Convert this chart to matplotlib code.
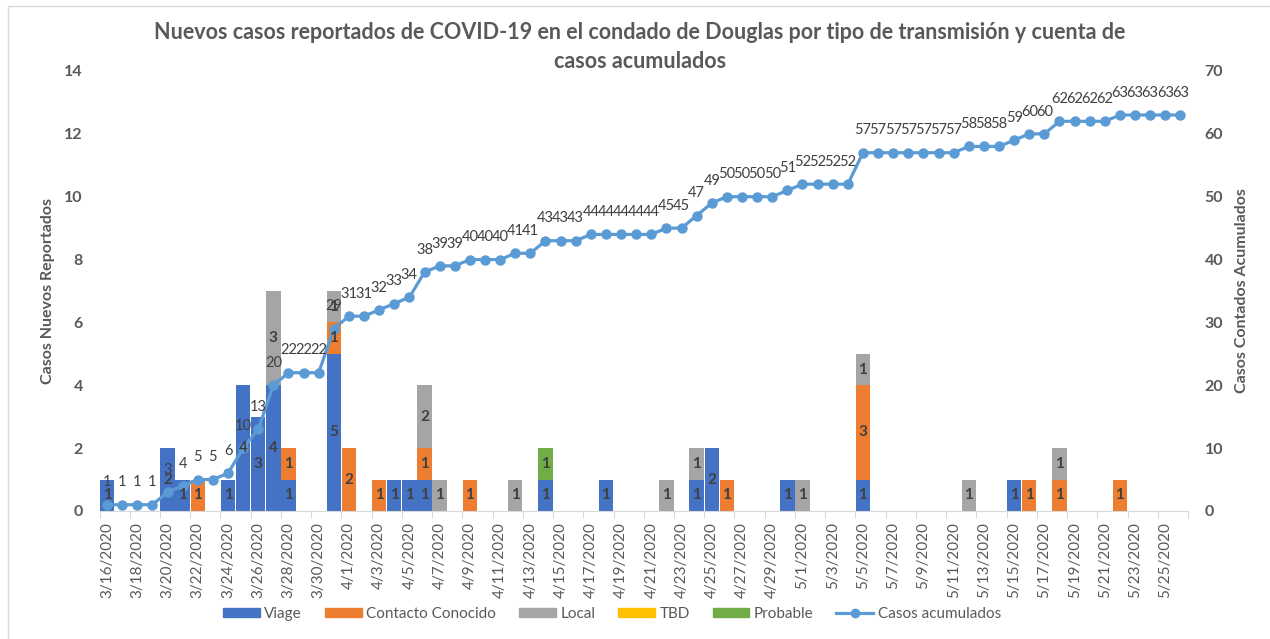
import numpy as np
import pandas as pd
import matplotlib
matplotlib.use("Agg")
import matplotlib.pyplot as plt
from matplotlib.patches import Patch, Rectangle
from matplotlib.lines import Line2D

plt.rcParams['font.family'] = ['Lato', 'DejaVu Sans']

# Fechas (categorías del eje x)
fechas = pd.date_range("2020-03-16", "2020-05-26", freq="D")
etiquetas = [f"{d.month}/{d.day}/{d.year}" for d in fechas]
claves = [f"{d.month}/{d.day}" for d in fechas]

# Casos nuevos por tipo de transmisión (solo días con casos)
viage = {"3/16": 1, "3/20": 2, "3/21": 1, "3/24": 1, "3/25": 4, "3/26": 3,
         "3/27": 4, "3/28": 1, "3/31": 5, "4/4": 1, "4/5": 1, "4/6": 1,
         "4/14": 1, "4/18": 1, "4/24": 1, "4/25": 2, "4/30": 1, "5/5": 1,
         "5/15": 1}
contacto = {"3/22": 1, "3/28": 1, "3/31": 1, "4/1": 2, "4/3": 1, "4/6": 1,
            "4/9": 1, "4/26": 1, "5/5": 3, "5/16": 1, "5/18": 1, "5/22": 1}
local = {"3/27": 3, "3/31": 1, "4/6": 2, "4/7": 1, "4/12": 1, "4/22": 1,
         "4/24": 1, "5/1": 1, "5/5": 1, "5/12": 1, "5/18": 1}
tbd = {}
probable = {"4/14": 1}

# Casos acumulados (eje derecho)
acumulados = [1, 1, 1, 1, 3, 4, 5, 5, 6, 10, 13, 20, 22, 22, 22, 29,
              31, 31, 32, 33, 34, 38, 39, 39, 40, 40, 40, 41, 41, 43, 43, 43,
              44, 44, 44, 44, 44, 45, 45, 47, 49, 50, 50, 50, 50, 51,
              52, 52, 52, 52, 57, 57, 57, 57, 57, 57, 57, 58, 58, 58, 59, 60,
              60, 62, 62, 62, 62, 63, 63, 63, 63, 63]

series = [("Viage", viage, "#4472C4"),
          ("Contacto Conocido", contacto, "#ED7D31"),
          ("Local", local, "#A5A5A5"),
          ("TBD", tbd, "#FFC000"),
          ("Probable", probable, "#70AD47")]

gris = "#595959"
gris_osc = "#404040"
x = np.arange(len(fechas))

fig = plt.figure(figsize=(12.7, 6.39), dpi=100)
ax = fig.add_axes([99.5 / 1270, 1 - 511 / 639, (1188 - 99.5) / 1270, 440 / 639])
ax2 = ax.twinx()

bottom = np.zeros(len(x))
etiquetas_barras = []
for nombre, datos, color in series:
    vals = np.array([datos.get(k, 0) for k in claves], dtype=float)
    ax.bar(x, vals, width=0.95, bottom=bottom, color=color, zorder=2)
    for i in np.nonzero(vals)[0]:
        etiquetas_barras.append((x[i], bottom[i] + vals[i] / 2, int(vals[i])))
    bottom += vals

ax.set_xlim(-0.5, len(x) - 0.5)
ax.set_ylim(0, 14)
ax.set_yticks(np.arange(0, 15, 2))
ax2.set_ylim(0, 70)
ax2.set_yticks(np.arange(0, 71, 10))

# línea acumulada
ax2.plot(x, acumulados, color="#5B9BD5", lw=2.3, marker="o", ms=6.5, zorder=3)
for xi, v in zip(x, acumulados):
    ax2.annotate(str(v), (xi, v), xytext=(0, 16), textcoords="offset points",
                 ha="center", va="center", fontsize=10.5, color=gris_osc, zorder=5)

# etiquetas de las barras encima de todo
for xi, yi, v in etiquetas_barras:
    ax2.text(xi, yi, str(v), transform=ax.transData, ha="center", va="center",
             fontsize=11, fontweight="bold", color=gris_osc, zorder=6)

# ejes
for a in (ax, ax2):
    for s in ("top", "left", "right"):
        a.spines[s].set_visible(False)
    a.spines["bottom"].set_color("#D9D9D9")
ax2.spines["bottom"].set_visible(False)

ax.set_xticks(np.arange(-0.5, len(x), 2))
ax.set_xticklabels([])
ax.tick_params(axis="x", which="major", length=5, color="#D9D9D9")
ax.set_xticks(x[::2], minor=True)
ax.set_xticklabels(etiquetas[::2], minor=True, rotation=90, fontsize=11, color=gris)
ax.tick_params(axis="x", which="minor", length=0, pad=8)

ax.tick_params(axis="y", length=0, pad=12, labelsize=11.5, labelcolor=gris)
ax2.tick_params(axis="y", length=0, pad=12, labelsize=11.5, labelcolor=gris)
for lab in ax.get_yticklabels() + ax2.get_yticklabels():
    lab.set_fontweight("bold")

fig.text(48 / 1270, 1 - 291 / 639, "Casos Nuevos Reportados", rotation=90,
         ha="center", va="center", fontsize=11.5, fontweight="bold", color=gris)
fig.text(1242 / 1270, 1 - 291 / 639, "Casos Contados Acumulados", rotation=90,
         ha="center", va="center", fontsize=11.5, fontweight="bold", color=gris)

fig.text(640 / 1270, 1 - 47 / 639,
         "Nuevos casos reportados de COVID-19 en el condado de Douglas por tipo de transmisión y cuenta de\ncasos acumulados",
         ha="center", va="center", fontsize=15.5, fontweight="bold", color=gris,
         linespacing=1.45)

# leyenda
handles = [Patch(color=c, label=n) for n, _, c in series]
handles.append(Line2D([], [], color="#5B9BD5", lw=2.3, marker="o", ms=6,
                      label="Casos acumulados"))
leg = fig.legend(handles=handles, loc="center", bbox_to_anchor=(612 / 1270, 1 - 614 / 639),
                 ncol=6, frameon=False, fontsize=11, handlelength=2.4,
                 handleheight=0.5, handletextpad=0.3, columnspacing=1.5)
for t in leg.get_texts():
    t.set_color(gris)

# borde del área del gráfico
fig.patches.append(Rectangle((8 / 1270, -0.02), 1.05, 1 - 6 / 639 + 0.02,
                             transform=fig.transFigure, fill=False,
                             edgecolor="#D9D9D9", lw=1))

fig.savefig("out.png", dpi=100)
